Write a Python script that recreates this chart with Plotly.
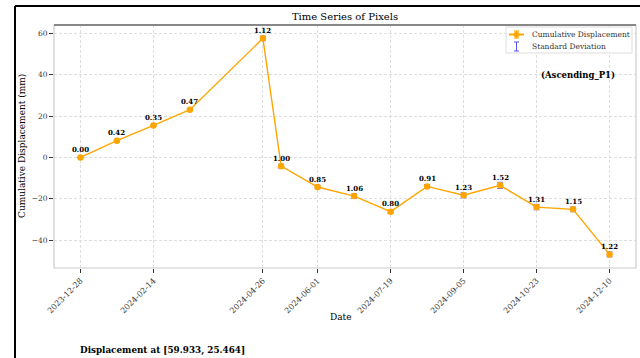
import pandas as pd
import plotly.graph_objects as go

# Acquisition dates and cumulative displacement (mm) with its standard deviation
dates = ["2023-12-28", "2024-01-21", "2024-02-14", "2024-03-09", "2024-04-26",
         "2024-05-08", "2024-06-01", "2024-06-25", "2024-07-19", "2024-08-12",
         "2024-09-05", "2024-09-29", "2024-10-23", "2024-11-16", "2024-12-10"]
displacement = [0.0, 8.1, 15.5, 23.1, 57.6, -4.2, -14.3, -18.7, -26.2, -14.0,
                -18.3, -13.5, -24.0, -25.1, -46.9]
std_dev = [0.00, 0.42, 0.35, 0.47, 1.12, 1.00, 0.85, 1.06, 0.80, 0.91,
           1.23, 1.52, 1.31, 1.15, 1.22]
tick_dates = ["2023-12-28", "2024-02-14", "2024-04-26", "2024-06-01",
              "2024-07-19", "2024-09-05", "2024-10-23", "2024-12-10"]
y_ticks = [-40, -20, 0, 20, 40, 60]

SERIF = "DejaVu Serif"
ORANGE = "#FFA500"
W, H = 640, 358
L, R, T, B = 54, 636, 25, 268


def px(x):
    return (x - L) / (R - L)


def py(y):
    return (B - y) / (B - T)


d = pd.to_datetime(dates)
span = d.max() - d.min()
x_range = [d.min() - span * 0.05, d.max() + span * 0.05]
lo = min(v - s for v, s in zip(displacement, std_dev))
hi = max(v + s for v, s in zip(displacement, std_dev))
y_range = [lo - (hi - lo) * 0.05, hi + (hi - lo) * 0.05]

fig = go.Figure()
fig.add_trace(go.Scatter(
    x=dates, y=displacement, mode="lines+markers",
    line=dict(color=ORANGE, width=1.4),
    marker=dict(color=ORANGE, size=6.5, symbol="circle"),
    error_y=dict(type="data", array=std_dev, visible=True,
                 color="rgba(90,80,220,0.75)", thickness=1, width=3),
    showlegend=False,
))

annotations = []
# value labels above each point
for x, y, s in zip(dates, displacement, std_dev):
    annotations.append(dict(
        x=x, y=y, xref="x", yref="y", text=f"{s:.2f}", showarrow=False,
        yshift=8, xanchor="center", yanchor="middle",
        font=dict(family=SERIF, size=7, color="black", weight="bold"),
    ))


def note(x, y, text, size, bold=False, anchor="center", angle=0, color="black"):
    return dict(x=px(x), y=py(y), xref="paper", yref="paper", text=text,
                showarrow=False, xanchor=anchor, yanchor="middle", textangle=angle,
                font=dict(family=SERIF, size=size, color=color,
                          weight="bold" if bold else "normal"))


annotations += [
    note(22, 146, "Cumulative Displacement (mm)", 9, angle=-90),
    note(341, 317, "Date", 9),
    note(578, 75, "(Ascending_P1)", 8.5, bold=True),
    note(162, 350, "Displacement at [59.933, 25.464]", 8.8, bold=True),
    note(530, 34.5, "Cumulative Displacement", 7.5, anchor="left", color="#333"),
    note(530, 46.5, "Standard Deviation", 7.5, anchor="left", color="#333"),
]


def seg(x0, y0, x1, y1, color, width):
    return dict(type="line", xref="paper", yref="paper", x0=px(x0), x1=px(x1),
                y0=py(y0), y1=py(y1), line=dict(color=color, width=width), layer="above")


shapes = [
    # figure frame
    seg(15, 6, W, 6, "black", 2),
    seg(15, 6, 15, H, "black", 2),
    # axes box
    dict(type="rect", xref="paper", yref="paper", x0=0, x1=1, y0=0, y1=1,
         line=dict(color="#cccccc", width=1.2), layer="above"),
    seg(L, T, R, T, "#888888", 1.8),
    # legend box
    dict(type="rect", xref="paper", yref="paper", x0=px(506), x1=px(632), y0=py(27), y1=py(53),
         line=dict(color="#dddddd", width=1), fillcolor="rgba(255,255,255,0.85)", layer="above"),
    # legend glyph: line + errorbar + marker
    seg(509, 34.5, 524, 34.5, ORANGE, 2),
    seg(516.5, 31, 516.5, 38, ORANGE, 1.2),
    seg(514, 31, 519, 31, ORANGE, 1.2),
    seg(514, 38, 519, 38, ORANGE, 1.2),
    dict(type="circle", xref="paper", yref="paper", x0=px(514), x1=px(519), y0=py(32), y1=py(37),
         line=dict(color=ORANGE, width=1), fillcolor=ORANGE, layer="above"),
    # legend glyph: standard deviation "I"
    seg(516.5, 42, 516.5, 51, "#5555ee", 1),
    seg(514, 42, 519, 42, "#5555ee", 1),
    seg(514, 51, 519, 51, "#5555ee", 1),
]

fig.update_layout(
    width=W, height=H,
    margin=dict(l=L, r=W - R, t=T, b=H - B, pad=0),
    paper_bgcolor="white", plot_bgcolor="white",
    title=dict(text="Time Series of Pixels", x=px(345), xref="paper",
               y=1 - 16 / H, yref="container", xanchor="center", yanchor="middle",
               font=dict(family=SERIF, size=10, color="black")),
    showlegend=False,
    annotations=annotations,
    shapes=shapes,
)
grid = dict(showgrid=True, gridcolor="#dedede", gridwidth=0.6, griddash="3px,2px",
            zeroline=False, showline=False,
            ticks="outside", ticklen=4, tickcolor="#333", tickwidth=1)
fig.update_xaxes(
    type="date", range=x_range, tickvals=tick_dates, ticktext=tick_dates,
    tickangle=-45, tickfont=dict(family=SERIF, size=8, color="#333"), **grid,
)
fig.update_yaxes(
    range=y_range, tickvals=y_ticks,
    tickfont=dict(family=SERIF, size=7.5, color="#333"), **grid,
)

fig.write_html("out.html")
